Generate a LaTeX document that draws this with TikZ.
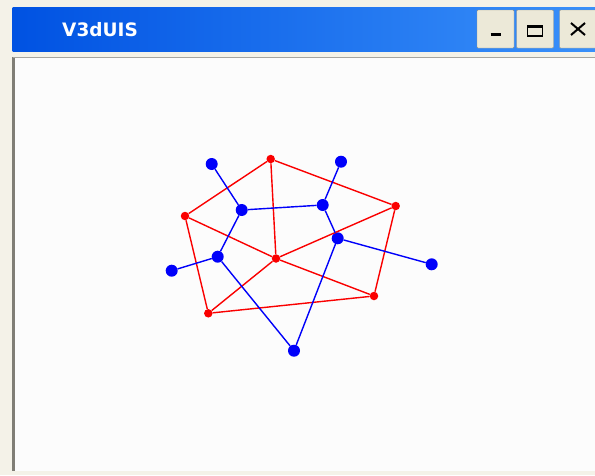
\documentclass[tikz,border=0pt]{standalone}
\usepackage{fontspec}
\newfontfamily\titlefont{DejaVu Sans}
\usetikzlibrary{positioning}

\definecolor{winbeige}{RGB}{244,242,232}
\definecolor{btnface}{RGB}{236,233,216}
\definecolor{btnedge}{RGB}{150,146,130}
\definecolor{titleleft}{RGB}{0,82,226}
\definecolor{titleright}{RGB}{58,145,250}
\definecolor{framegray}{RGB}{128,126,118}
\definecolor{graphblue}{RGB}{0,0,250}
\definecolor{graphred}{RGB}{250,0,0}

\begin{document}
\begin{tikzpicture}[x=1pt, y=-1pt,
    bdot/.style={circle, fill=graphblue, inner sep=0pt, minimum size=12pt},
    rdot/.style={circle, fill=graphred, inner sep=0pt, minimum size=8.5pt},
    bedge/.style={graphblue, line width=1.4pt},
    redge/.style={graphred, line width=1.4pt},
    winbtn/.style={draw=btnedge, fill=btnface, rounded corners=1pt,
                   minimum width=37pt, minimum height=38pt, inner sep=0pt},
    icon/.style={black, line width=2pt},
  ]
  \useasboundingbox (0,0) rectangle (595,475);

  % window frame
  \fill[winbeige] (0,0) rectangle (595,475);
  \shade[left color=titleleft, right color=titleright] (12.5,7) rectangle (600,51);
  \fill[white!99!black] (13,57) rectangle (600,471);
  \fill[framegray] (11.5,57) rectangle (15,471);
  \draw[framegray!70, line width=1pt] (13,57.5) -- (600,57.5);

  \node[font=\titlefont\bfseries\fontsize{18.5}{18.5}\selectfont, text=white,
        anchor=base west, inner sep=0pt] (title) at (62,36) {V3dUIS};

  \node[winbtn] (minbtn) at (495.5,29) {};
  \node[winbtn] (maxbtn) at (535,29) {};
  \node[winbtn] (closebtn) at (578,29) {};

  \draw[icon, line width=3pt] ([xshift=-5pt, yshift=-5pt]minbtn.center) -- ([xshift=5pt, yshift=-5pt]minbtn.center);
  \draw[black, line width=1.6pt] ([xshift=-7.5pt, yshift=-7pt]maxbtn.center) rectangle ([xshift=7.5pt, yshift=3pt]maxbtn.center);
  \draw[black, line width=3pt] ([xshift=-7.5pt, yshift=3pt]maxbtn.center) -- ([xshift=7.5pt, yshift=3pt]maxbtn.center);
  \draw[icon] ([xshift=-7pt, yshift=6pt]closebtn.center) -- ([xshift=7pt, yshift=-6pt]closebtn.center);
  \draw[icon] ([xshift=-7pt, yshift=-6pt]closebtn.center) -- ([xshift=7pt, yshift=6pt]closebtn.center);

  % red graph
  \node[rdot] (r1) at (270.7,159) {};
  \node[rdot] (r2) at (185,216) {};
  \node[rdot] (r3) at (395.7,206) {};
  \node[rdot] (r4) at (276,258.5) {};
  \node[rdot] (r5) at (208.3,313.3) {};
  \node[rdot] (r6) at (374,296) {};

  % blue graph
  \node[bdot] (b1) at (211.7,164) {};
  \node[bdot] (b2) at (341,161.7) {};
  \node[bdot] (b3) at (241.7,210) {};
  \node[bdot] (b4) at (322.7,205) {};
  \node[bdot] (b5) at (337.7,238.3) {};
  \node[bdot] (b6) at (217.7,256.7) {};
  \node[bdot] (b7) at (171.7,270.7) {};
  \node[bdot] (b8) at (431.7,264.3) {};
  \node[bdot] (b9) at (294,350.7) {};

  \draw[redge] (r1) -- (r2);
  \draw[redge] (r1) -- (r3);
  \draw[redge] (r1) -- (r4);
  \draw[redge] (r2) -- (r4);
  \draw[redge] (r2) -- (r5);
  \draw[redge] (r3) -- (r4);
  \draw[redge] (r3) -- (r6);
  \draw[redge] (r4) -- (r5);
  \draw[redge] (r4) -- (r6);
  \draw[redge] (r5) -- (r6);

  \draw[bedge] (b1) -- (b3);
  \draw[bedge] (b2) -- (b4);
  \draw[bedge] (b3) -- (b4);
  \draw[bedge] (b4) -- (b5);
  \draw[bedge] (b3) -- (b6);
  \draw[bedge] (b6) -- (b7);
  \draw[bedge] (b5) -- (b8);
  \draw[bedge] (b6) -- (b9);
  \draw[bedge] (b5) -- (b9);

\end{tikzpicture}
\end{document}
